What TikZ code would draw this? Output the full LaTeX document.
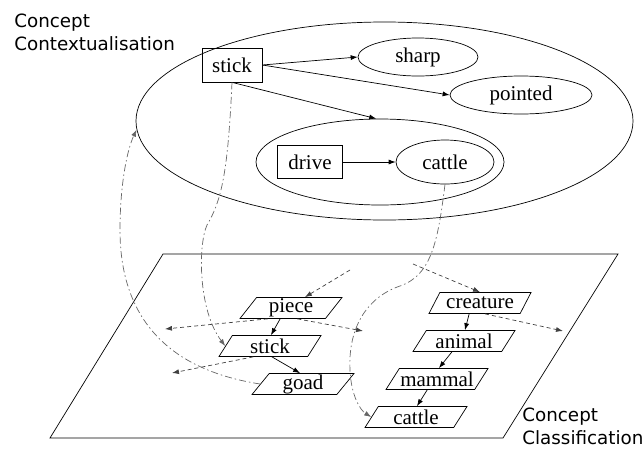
\documentclass[tikz,border=0pt]{standalone}
\usepackage{fontspec}
\setmainfont{Liberation Serif}
\newfontfamily\wordfont{Liberation Serif}
\newfontfamily\captionfont{DejaVu Sans}
\usetikzlibrary{positioning}
\usetikzlibrary{shapes.geometric,arrows.meta}

\begin{document}
\begin{tikzpicture}
    [x=1pt, y=-1pt,
    line width=.7pt,
    word/.style={font=\wordfont\fontsize{21}{24}\selectfont, inner sep=0pt},
    box/.style={word, draw, rectangle, minimum height=34pt},
    oval/.style={word, draw, ellipse, minimum height=38pt},
    zone/.style={draw, ellipse, inner sep=0pt},
    para/.style={word, draw, trapezium, trapezium left angle=48, trapezium right angle=132,
        trapezium stretches body, minimum width=102pt, minimum height=21pt},
    caption/.style={font=\captionfont\fontsize{18.3}{23}\selectfont, align=left, inner sep=0pt, anchor=north west},
    link/.style={-{Latex[length=7pt,width=5pt]}},
    isa/.style={link, isacolor, dash pattern=on 4pt off 3pt},
    jump/.style={link, jumpcolor, dash pattern=on 7pt off 3pt on 1.5pt off 3pt},
    ]
    \colorlet{isacolor}{black!75}
    \colorlet{jumpcolor}{black!60}
    \useasboundingbox (0,0) rectangle (642,453);

    % captions
    \node[caption] (ctxlabel) at (14,14) {Concept\\Contextualisation};
    \node[caption] (clslabel) at (522,408) {Concept\\Classification};

    % contextualisation
    \node[zone, minimum width=497pt, minimum height=198pt] (outer) at (384.5,121) {};
    \node[zone, minimum width=248pt, minimum height=86pt] (inner) at (380,162) {};
    \node[box, minimum width=60pt] (stickT) at (232,65) {stick};
    \node[oval, minimum width=120pt] (sharp) at (418,57) {sharp};
    \node[oval, minimum width=142pt] (pointed) at (521,95) {pointed};
    \node[box, minimum width=65pt, minimum height=33pt] (drive) at (310,162) {drive};
    \node[oval, minimum width=98pt, minimum height=44pt] (cattleT) at (445,162) {cattle};

    \draw[link] (stickT.east) -- (sharp.west);
    \draw[link] (stickT.east) -- (pointed.west);
    \draw[link] (stickT.south) -- (inner.95);
    \draw[link] (drive) -- (cattleT);

    % classification
    \draw (163,254) -- (618,254) -- (503,438) -- (50,438) -- cycle;
    \node[para] (piece) at (291,308) {piece};
    \node[para] (stickB) at (270,346) {stick};
    \node[para] (goad) at (303,384) {goad};
    \node[para] (creature) at (480,303) {creature};
    \node[para] (animal) at (464,341) {animal};
    \node[para] (mammal) at (437,379) {mammal};
    \node[para] (cattleB) at (416,417) {cattle};

    \coordinate (pieceIn) at (350,270);
    \coordinate (creatureIn) at (413,264);
    \coordinate (pieceL) at (165,329);
    \coordinate (pieceR) at (363,331);
    \coordinate (stickL) at (172,373);
    \coordinate (creatureR) at (563,331);

    \draw[link] (piece.225) -- (stickB.85);
    \draw[link] (stickB.-80) -- (goad.105);
    \draw[link] (creature.225) -- (animal.85);
    \draw[link] (animal.222) -- (mammal.80);
    \draw[link] (mammal.228) -- (cattleB.85);

    \draw[isa] (pieceIn) -- (piece.38);
    \draw[isa] (creatureIn) -- (creature.north);
    \draw[isa] (piece.205) -- (pieceL);
    \draw[isa] (piece.-60) -- (pieceR);
    \draw[isa] (stickB.213) -- (stickL);
    \draw[isa] (creature.-65) -- (creatureR);

    % between the two
    \draw[jump] (stickT.south) .. controls (228,170) and (222,200) .. (207,225)
        .. controls (198,245) and (198,310) .. (stickB.west);
    \draw[jump] (goad.west) .. controls (170,370) and (120,320) .. (120,230)
        .. controls (120,185) and (127,150) .. (outer.182);
    \draw[jump] (cattleT.south) .. controls (438,240) and (432,275) .. (400,286)
        .. controls (365,298) and (348,330) .. (350,370)
        .. controls (351,395) and (360,410) .. (cattleB.west);
\end{tikzpicture}
\end{document}
